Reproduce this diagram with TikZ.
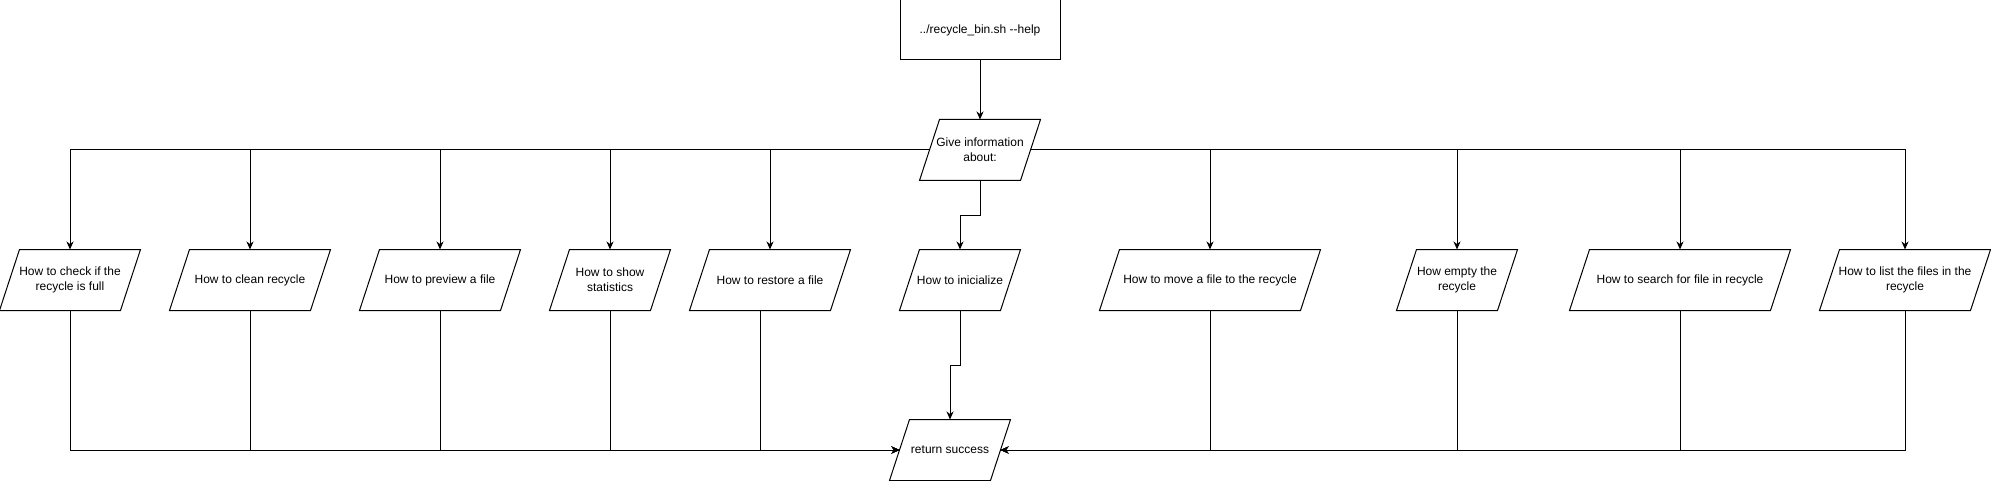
\documentclass[tikz,border=0pt]{standalone}
\usepackage{fontspec}
\setmainfont{Liberation Sans}
\usetikzlibrary{arrows.meta,calc}
\newcommand\parnode[5]{%
  \node[txt, minimum width=#4pt-20pt, minimum height=60pt] (#1) at (#2,#3) {#5};
  \draw ([xshift=-10pt]#1.south west) -- ([xshift=10pt]#1.north west) -- ([xshift=10pt]#1.north east) -- ([xshift=-10pt]#1.south east) -- cycle;}
\begin{document}
\begin{tikzpicture}[x=1pt,y=-1pt,line width=1pt,
  txt/.style={font=\fontsize{12}{15}\selectfont, align=center, inner sep=0pt},
  arr/.style={-{Stealth[length=8pt,width=7pt,inset=2.5pt]}},
  boxnode/.style={txt, draw, minimum width=160pt, minimum height=60pt}]
\useasboundingbox (0,0) rectangle (1991,481);
\node[boxnode] (top) at (980,30) {../recycle\_bin.sh {-}{-}help};
\parnode{gi}{980}{150}{120}{Give information\\about:}
\parnode{c1}{70}{280}{140}{How to check if the\\recycle is full}
\parnode{c2}{250}{280}{160}{How to clean recycle}
\parnode{c3}{440}{280}{160}{How to preview a file}
\parnode{c4}{610}{280}{120}{How to show\\statistics}
\parnode{c5}{770}{280}{160}{How to restore a file}
\parnode{ini}{960}{280}{120}{How to inicialize}
\parnode{mv}{1210}{280}{220}{How to move a file to the recycle}
\parnode{em}{1457}{280}{120}{How empty the\\recycle}
\parnode{se}{1680}{280}{220}{How to search for file in recycle}
\parnode{li}{1905}{280}{170}{How to list the files in the\\recycle}
\parnode{ret}{950}{450}{120}{return success}
\draw[arr] (top.south) -- (gi.north);
\foreach \n in {c1,c2,c3,c4,c5} \draw[arr] (gi.west) -| (\n.north);
\foreach \n in {mv,em,se,li} \draw[arr] (gi.east) -| (\n.north);
\draw[arr] (gi.south) -- ++(0,35) -| (ini.north);
\draw[arr] (ini.south) -- ++(0,55) -| (ret.north);
\foreach \n in {c1,c2,c3,c4} \draw[arr] (\n.south) |- (ret.west);
\draw[arr] ([xshift=-10pt]c5.south) |- (ret.west);
\foreach \n in {mv,em,se,li} \draw[arr] (\n.south) |- (ret.east);
\end{tikzpicture}
\end{document}
